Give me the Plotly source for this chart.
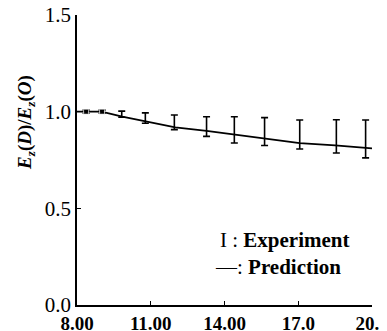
import plotly.graph_objects as go

# Experiment data (distance D) with error bars
exp_x = [8.37, 9.02, 9.82, 10.78, 11.96, 13.27, 14.40, 15.63, 17.06, 18.55, 19.74]
exp_y = [1.000, 1.000, 0.987, 0.967, 0.945, 0.923, 0.906, 0.897, 0.882, 0.872, 0.859]
exp_err = [0.008, 0.008, 0.016, 0.027, 0.038, 0.051, 0.068, 0.072, 0.075, 0.086, 0.098]

# Prediction curve
pred_x = [8.0, 9.0, 9.84, 10.78, 12.0, 13.27, 14.4, 15.6, 17.06, 18.5, 19.8, 20.0]
pred_y = [1.000, 1.000, 0.974, 0.949, 0.919, 0.901, 0.881, 0.863, 0.837, 0.826, 0.812, 0.810]

x_tickvals = [8, 11, 14, 17, 20]
x_ticktext = ["8.00", "11.00", "14.00", "17.0", "20.0"]
y_tickvals = [0.0, 0.5, 1.0, 1.5]
y_ticktext = ["0.0", "0.5", "1.0", "1.5"]

FONT = "Liberation Serif"

marker_sizes = [5, 5] + [0] * (len(exp_x) - 2)

fig = go.Figure()
fig.add_trace(go.Scatter(
    x=pred_x, y=pred_y, mode="lines",
    line=dict(color="black", width=1.8), showlegend=False,
))
fig.add_trace(go.Scatter(
    x=exp_x, y=exp_y, mode="markers",
    marker=dict(color="black", size=marker_sizes, symbol="square"),
    error_y=dict(type="data", array=exp_err, visible=True,
                 color="black", thickness=1.6, width=3.5),
    showlegend=False,
))

# page body has an 8px margin: figure is sized/offset to compensate
fig.update_layout(
    width=379, height=323,
    margin=dict(l=69, r=15, t=7, b=26),
    paper_bgcolor="white", plot_bgcolor="white",
    font=dict(family=FONT, color="black", size=20),
    xaxis=dict(range=[8, 20], tickvals=x_tickvals,
               ticktext=["<b>%s</b>" % t for t in x_ticktext],
               showline=True, linecolor="black", linewidth=1.5,
               ticks="inside", ticklen=4, tickcolor="black",
               showgrid=False, zeroline=False, automargin=False,
               ticklabeloverflow="allow",
               tickfont=dict(family=FONT, size=19, color="black")),
    yaxis=dict(range=[0, 1.5], tickvals=y_tickvals, ticktext=y_ticktext,
               showline=True, linecolor="black", linewidth=1.5,
               ticks="inside", ticklen=4, tickcolor="black",
               showgrid=False, zeroline=False, automargin=False,
               ticklabeloverflow="allow",
               tickfont=dict(family=FONT, size=21, color="black")),
    annotations=[
        dict(text="<b><i>E<sub>z</sub></i>(<i>D</i>)/<i>E<sub>z</sub></i>(<i>O</i>)</b>",
             xref="paper", yref="paper", x=-0.173, y=0.631,
             xanchor="center", yanchor="middle",
             textangle=-90, showarrow=False,
             font=dict(family=FONT, size=19, color="black")),
        dict(text="I : <b>Experiment</b>", xref="paper", yref="paper",
             x=0.478, y=0.224, xanchor="left", yanchor="middle",
             showarrow=False, font=dict(family=FONT, size=21, color="black")),
        dict(text="—: <b>Prediction</b>", xref="paper", yref="paper",
             x=0.461, y=0.131, xanchor="left", yanchor="middle",
             showarrow=False, font=dict(family=FONT, size=21, color="black")),
    ],
)

fig.write_html("out.html")
